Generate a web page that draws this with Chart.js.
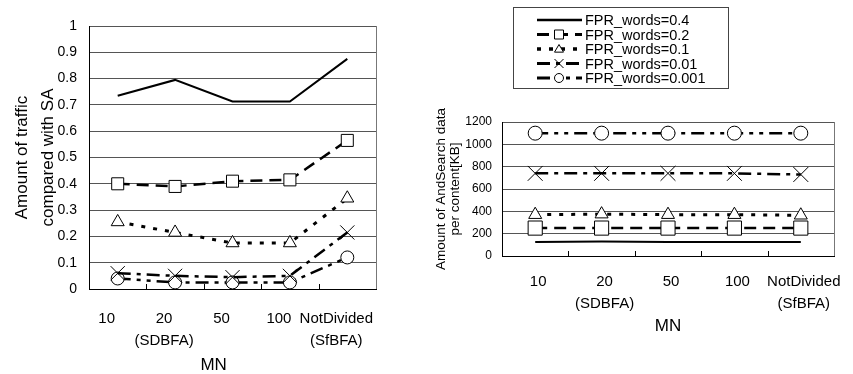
<!DOCTYPE html>
<html>
<head>
<meta charset="utf-8">
<script src="https://cdn.jsdelivr.net/npm/chart.js@4.4.1/dist/chart.umd.min.js"></script>
<style>
body { margin: 0; background: #fff; width: 853px; height: 374px; overflow: hidden; position: relative; }
#left { position: absolute; left: 0; top: 0; }
#right { position: absolute; left: 430px; top: 0; }
</style>
</head>
<body>
<canvas id="left" width="430" height="374"></canvas>
<canvas id="right" width="423" height="374"></canvas>
<script>
// categories (MN) shared by both charts
var categories = [['10'], ['20', '(SDBFA)'], ['50'], ['100'], ['NotDivided', '(SfBFA)']]
var seriesNames = ['FPR_words=0.4', 'FPR_words=0.2', 'FPR_words=0.1', 'FPR_words=0.01', 'FPR_words=0.001']

// left chart: amount of traffic compared with SA
var traffic04 = [0.735, 0.795, 0.713, 0.713, 0.875]
var traffic02 = [0.40, 0.39, 0.41, 0.415, 0.565]
var traffic01 = [0.255, 0.215, 0.175, 0.175, 0.345]
var traffic001 = [0.06, 0.05, 0.045, 0.05, 0.215]
var traffic0001 = [0.04, 0.025, 0.025, 0.025, 0.12]

// right chart: AndSearch data per content [KB]
var kb04 = [125, 130, 125, 125, 125]
var kb02 = [250, 250, 250, 250, 250]
var kb01 = [370, 375, 370, 370, 365]
var kb001 = [740, 740, 740, 740, 730]
var kb0001 = [1100, 1100, 1100, 1100, 1100]

var leftTicks = { min: 0, max: 1, step: 0.1 }
var rightTicks = { min: 0, max: 1200, step: 200 }

Chart.defaults.font.family = "'Liberation Sans', Arial, sans-serif"
Chart.defaults.color = '#000'

// line look for each series
var looks = [
    { dash: [], width: 2, style: false },
    { dash: [12, 7], width: 2.5, style: 'rect' },
    { dash: [4, 8], width: 3, style: 'triangle' },
    { dash: [13, 6, 4, 6], width: 2.5, style: 'crossRot' },
    { dash: [13, 6, 4, 6, 4, 6], width: 2.5, style: 'circle' }
]
var leftRadius = [0, 8.5, 7.5, 10, 6.5]
var rightRadius = [0, 10, 7.5, 10.5, 7]

function makeDatasets(values, radii){
    var sets = []
    for(var i = 0; i < values.length; i++){
        sets.push({
            label: seriesNames[i],
            data: values[i],
            borderColor: '#000',
            borderWidth: looks[i].width,
            borderDash: looks[i].dash,
            pointStyle: looks[i].style,
            pointRadius: radii[i],
            pointBorderColor: '#000',
            pointBackgroundColor: '#fff',
            pointBorderWidth: 1,
            tension: 0,
            fill: false
        })
    }
    return sets
}

// plain numbers on the value axis: 0, 0.1 ... 1 and 0 ... 1200
function plainTick(value){
    return String(Math.round(value * 10) / 10)
}

// gray frame round the plot and small inner tick marks on the x axis
var frame = {
    id: 'frame',
    afterDraw: function(chart){
        var a = chart.chartArea
        var ctx = chart.ctx
        var n = chart.data.labels.length
        ctx.save()
        ctx.strokeStyle = '#777'
        ctx.lineWidth = 1
        ctx.beginPath()
        ctx.moveTo(a.right + 0.5, a.top)
        ctx.lineTo(a.right + 0.5, a.bottom)
        ctx.stroke()
        ctx.strokeStyle = '#000'
        ctx.beginPath()
        for(var i = 1; i < n; i++){
            var x = Math.round(a.left + i * (a.right - a.left) / n) + 0.5
            ctx.moveTo(x, a.bottom)
            ctx.lineTo(x, a.bottom - 5)
        }
        ctx.stroke()
        ctx.restore()
    }
}

function drawMarker(ctx, style, x, y, r){
    ctx.beginPath()
    if(style == 'rect'){
        ctx.rect(x - r, y - r, 2 * r, 2 * r)
    } else if(style == 'triangle'){
        ctx.moveTo(x, y - r)
        ctx.lineTo(x + r, y + r * 0.7)
        ctx.lineTo(x - r, y + r * 0.7)
        ctx.closePath()
    } else if(style == 'circle'){
        ctx.arc(x, y, r, 0, Math.PI * 2)
    }
    if(style == 'crossRot'){
        ctx.moveTo(x - r, y - r); ctx.lineTo(x + r, y + r)
        ctx.moveTo(x + r, y - r); ctx.lineTo(x - r, y + r)
        ctx.stroke()
        return
    }
    ctx.fillStyle = '#fff'
    ctx.fill()
    ctx.stroke()
}

// boxed legend above the right plot
var legendBox = {
    id: 'legendBox',
    afterDraw: function(chart){
        var ctx = chart.ctx
        ctx.save()
        ctx.strokeStyle = '#444'
        ctx.lineWidth = 1
        ctx.setLineDash([])
        ctx.strokeRect(83.5, 7.5, 215, 81)
        ctx.font = "14.5px 'Liberation Sans', Arial, sans-serif"
        ctx.textBaseline = 'middle'
        chart.data.datasets.forEach(function(ds, i){
            var y = 20 + i * 14.5
            ctx.strokeStyle = '#000'
            ctx.lineWidth = looks[i].width + 0.5
            ctx.setLineDash(looks[i].dash)
            ctx.beginPath()
            ctx.moveTo(107, y)
            ctx.lineTo(152, y)
            ctx.stroke()
            ctx.setLineDash([])
            ctx.lineWidth = 1
            if(looks[i].style) drawMarker(ctx, looks[i].style, 129, y, 4.5)
            ctx.fillStyle = '#000'
            ctx.fillText(ds.label, 155, y + 1)
        })
        ctx.restore()
    }
}

var leftChart = new Chart(document.getElementById('left'), {
    type: 'line',
    data: {
        labels: categories,
        datasets: makeDatasets([traffic04, traffic02, traffic01, traffic001, traffic0001], leftRadius)
    },
    options: {
        responsive: false,
        animation: false,
        layout: { padding: { left: 0, right: 54, top: 26, bottom: 0 } },
        plugins: { legend: { display: false }, tooltip: { enabled: false } },
        scales: {
            x: {
                offset: true,
                grid: { display: false },
                border: { color: '#000', width: 1 },
                ticks: { font: { size: 15, lineHeight: 1.45 }, padding: 11, labelOffset: -11, maxRotation: 0, autoSkip: false },
                title: { display: true, text: 'MN        ', font: { size: 17 }, padding: { top: 0, bottom: -2 } },
                afterFit: function(scale){ scale.height = 85 }
            },
            y: {
                min: leftTicks.min,
                max: leftTicks.max,
                ticks: { stepSize: leftTicks.step, font: { size: 14 }, padding: 12, callback: plainTick },
                grid: { color: '#555', drawTicks: false },
                border: { color: '#000', width: 1 },
                title: { display: true, text: ['Amount of traffic', 'compared with SA'], font: { size: 17, lineHeight: 1.55 }, padding: { top: 9, bottom: 0 } },
                afterFit: function(scale){ scale.width = 89 }
            }
        }
    },
    plugins: [frame]
})

var rightChart = new Chart(document.getElementById('right'), {
    type: 'line',
    data: {
        labels: categories,
        datasets: makeDatasets([kb04, kb02, kb01, kb001, kb0001], rightRadius)
    },
    options: {
        responsive: false,
        animation: false,
        layout: { padding: { left: 0, right: 19, top: 122, bottom: 38 } },
        plugins: { legend: { display: false }, tooltip: { enabled: false } },
        scales: {
            x: {
                offset: true,
                grid: { display: false },
                border: { color: '#000', width: 1 },
                ticks: { font: { size: 15, lineHeight: 1.45 }, padding: 7, labelOffset: 3, maxRotation: 0, autoSkip: false },
                title: { display: true, text: 'MN', font: { size: 17 }, padding: { top: 0, bottom: -1 } },
                afterFit: function(scale){ scale.height = 80 }
            },
            y: {
                min: rightTicks.min,
                max: rightTicks.max,
                ticks: { stepSize: rightTicks.step, font: { size: 12 }, padding: 10, callback: plainTick },
                grid: { color: '#555', drawTicks: false },
                border: { color: '#000', width: 1 },
                title: { display: true, text: ['Amount of AndSearch data', 'per content[KB]'], font: { size: 13.5, lineHeight: 1.05 }, padding: { top: 4, bottom: 0 } },
                afterFit: function(scale){ scale.width = 72 }
            }
        }
    },
    plugins: [frame, legendBox]
})
</script>
</body>
</html>
